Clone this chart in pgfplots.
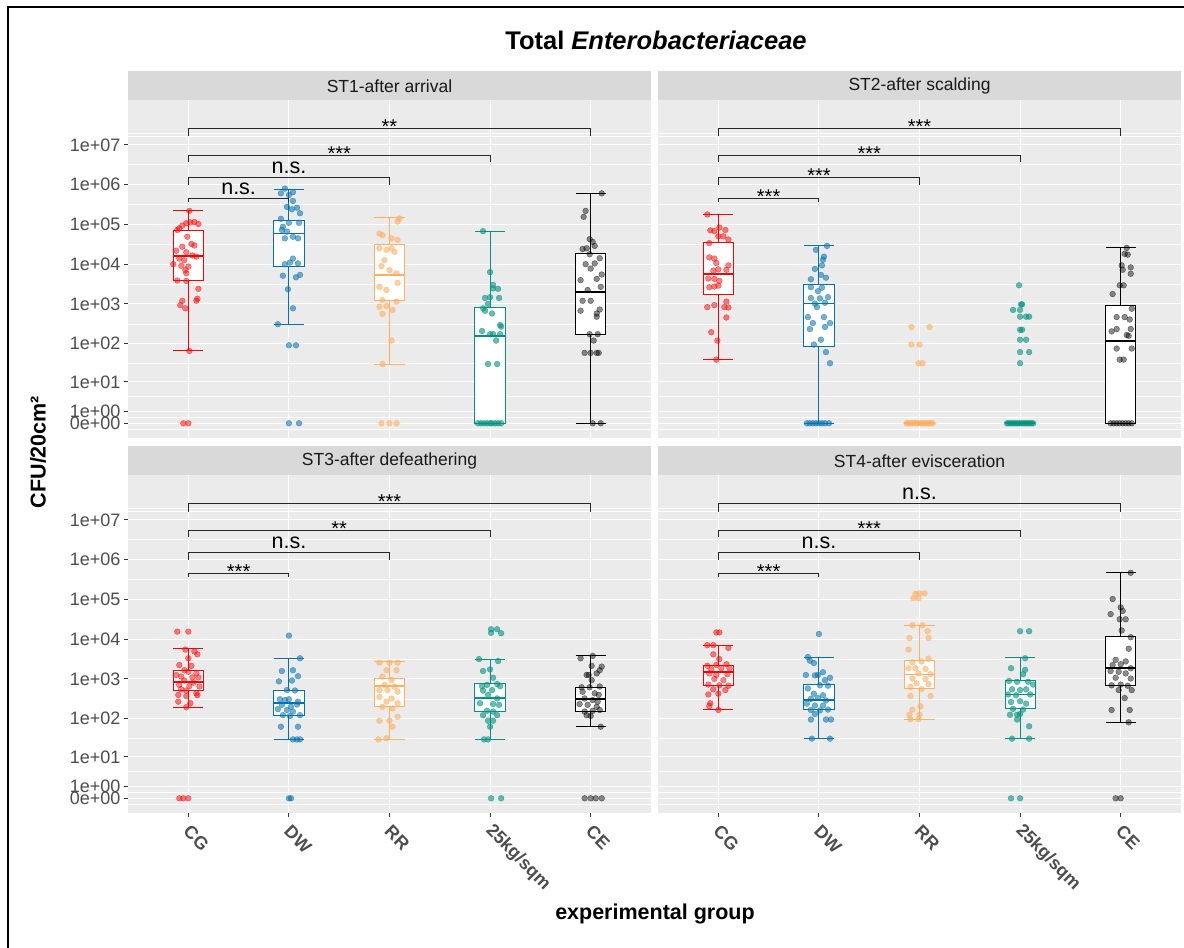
\documentclass[border=0pt]{standalone}
\usepackage{pgfplots}
\pgfplotsset{compat=1.18}
\usepackage{pgfplotstable}
\usepgfplotslibrary{statistics}
\usepackage{fontspec}
\setmainfont{Liberation Sans}
\definecolor{cgc}{HTML}{FF0000}
\definecolor{dwc}{HTML}{0072B2}
\definecolor{rrc}{HTML}{FFB061}
\definecolor{kgc}{HTML}{009480}
\definecolor{cec}{HTML}{000000}
\definecolor{bgc}{HTML}{EBEBEB}
\definecolor{stripc}{HTML}{D9D9D9}
\definecolor{labc}{HTML}{4D4D4D}
\definecolor{tickc}{HTML}{333333}

% ST1-after arrival: group, jitter offset, log10(CFU+1), class
\pgfplotstableread{
g dx t c
1 0.01 5.34 a
1 -0.11 4.86 a
1 -0.06 4.97 a
1 -0.02 5.03 a
1 0.02 5.05 a
1 0.06 5.06 a
1 0.10 5.01 a
1 -0.09 4.90 a
1 -0.01 4.69 a
1 0.03 4.51 a
1 0.06 4.47 a
1 -0.06 4.44 a
1 -0.12 4.34 a
1 -0.02 4.30 a
1 0.04 4.22 a
1 0.08 4.19 a
1 -0.09 4.14 a
1 -0.04 4.10 a
1 -0.15 4.00 a
1 -0.07 3.96 a
1 0.00 3.94 a
1 -0.03 3.85 a
1 -0.02 3.77 a
1 -0.11 3.59 a
1 -0.02 3.58 a
1 0.10 3.38 a
1 0.09 3.13 a
1 0.08 3.08 a
1 -0.06 3.08 a
1 -0.08 2.97 a
1 -0.03 2.89 a
1 0.01 1.82 a
1 -0.05 0 a
1 0.00 0 a
2 -0.04 5.90 b
2 0.04 5.81 b
2 -0.08 5.78 b
2 0.00 5.74 b
2 0.04 5.59 b
2 -0.02 5.44 b
2 0.08 5.42 b
2 0.03 5.38 b
2 0.11 5.28 b
2 -0.08 5.14 b
2 0.00 5.04 b
2 0.10 5.04 b
2 -0.06 4.94 b
2 -0.07 4.86 b
2 -0.02 4.82 b
2 0.04 4.69 b
2 0.09 4.65 b
2 -0.04 4.65 b
2 0.04 4.14 b
2 0.01 4.04 b
2 0.09 4.02 b
2 -0.04 4.00 b
2 -0.06 3.71 b
2 0.11 3.73 b
2 0.07 3.67 b
2 -0.01 3.37 b
2 0.04 2.89 b
2 -0.11 2.49 b
2 0.00 1.96 b
2 0.07 1.96 b
2 0.00 0 b
2 0.10 0 b
3 0.10 5.15 c
3 0.08 5.07 c
3 -0.10 4.77 c
3 -0.07 4.73 c
3 0.02 4.65 c
3 0.08 4.61 c
3 -0.10 4.40 c
3 -0.03 4.36 c
3 0.02 4.40 c
3 0.05 4.31 c
3 -0.05 4.10 c
3 -0.08 3.95 c
3 0.00 3.85 c
3 0.07 3.77 c
3 0.08 3.53 c
3 -0.10 3.43 c
3 -0.03 3.35 c
3 -0.07 3.10 c
3 0.07 3.06 c
3 -0.10 2.93 c
3 -0.03 2.95 c
3 0.03 2.85 c
3 -0.07 2.75 c
3 0.02 2.08 c
3 -0.07 1.49 c
3 -0.08 0 c
3 0.00 0 c
3 0.07 0 c
4 -0.07 4.83 d
4 0.00 3.80 d
4 0.03 3.48 d
4 0.03 3.39 d
4 0.08 3.38 d
4 -0.05 3.15 d
4 0.00 3.17 d
4 0.09 3.15 d
4 -0.02 3.00 d
4 -0.07 2.89 d
4 -0.05 2.83 d
4 0.02 2.76 d
4 0.10 2.47 d
4 0.11 2.43 d
4 -0.08 2.32 d
4 0.00 2.24 d
4 0.03 2.24 d
4 0.10 2.24 d
4 0.06 2.08 d
4 -0.02 1.49 d
4 0.07 1.49 d
4 -0.12 0 d
4 -0.09 0 d
4 -0.06 0 d
4 -0.03 0 d
4 0.00 0 d
4 0.02 0 d
4 0.05 0 d
4 0.08 0 d
4 0.11 0 d
5 0.11 5.78 e
5 -0.05 5.34 e
5 -0.07 5.19 e
5 -0.01 4.63 e
5 0.02 4.56 e
5 -0.04 4.40 e
5 -0.08 4.38 e
5 0.04 4.46 e
5 -0.01 4.25 e
5 0.09 4.15 e
5 -0.05 4.00 e
5 0.04 4.02 e
5 0.00 3.89 e
5 0.11 3.74 e
5 -0.10 3.60 e
5 0.06 3.63 e
5 0.10 3.43 e
5 -0.03 3.35 e
5 -0.08 3.08 e
5 0.00 3.08 e
5 0.09 2.86 e
5 -0.10 2.83 e
5 0.06 2.76 e
5 0.06 2.68 e
5 -0.01 2.24 e
5 0.07 2.24 e
5 0.03 2.08 e
5 -0.06 1.77 e
5 0.00 1.77 e
5 0.06 1.77 e
5 0.08 1.77 e
5 0.02 0 e
5 0.10 0 e
}\stA

% ST2-after scalding
\pgfplotstableread{
g dx t c
1 -0.11 5.25 a
1 -0.08 4.85 a
1 -0.04 4.83 a
1 0.01 4.92 a
1 0.07 4.86 a
1 0.00 4.70 a
1 0.05 4.70 a
1 0.10 4.62 a
1 -0.09 4.53 a
1 -0.09 4.17 a
1 -0.04 4.14 a
1 -0.02 4.03 a
1 0.10 3.97 a
1 -0.05 3.84 a
1 0.00 3.87 a
1 0.08 3.86 a
1 -0.10 3.64 a
1 -0.04 3.63 a
1 0.01 3.58 a
1 -0.09 3.42 a
1 -0.04 3.44 a
1 0.00 3.46 a
1 0.08 3.06 a
1 -0.11 2.92 a
1 -0.04 2.97 a
1 0.06 2.92 a
1 0.10 2.91 a
1 0.08 2.66 a
1 -0.07 2.29 a
1 -0.01 2.08 a
1 -0.02 1.60 a
2 -0.03 4.36 b
2 0.08 4.46 b
2 0.05 4.19 b
2 0.04 4.11 b
2 0.03 3.97 b
2 -0.04 3.88 b
2 0.02 3.73 b
2 0.07 3.66 b
2 -0.08 3.62 b
2 -0.08 3.42 b
2 0.03 3.41 b
2 -0.01 3.32 b
2 -0.08 3.15 b
2 0.01 3.14 b
2 0.09 3.17 b
2 -0.04 3.01 b
2 0.06 3.03 b
2 -0.02 2.92 b
2 -0.11 2.67 b
2 0.05 2.67 b
2 -0.06 2.52 b
2 0.11 2.52 b
2 -0.09 2.37 b
2 0.06 2.42 b
2 0.02 2.10 b
2 -0.05 1.98 b
2 0.07 1.79 b
2 0.11 1.51 b
2 -0.12 0 b
2 -0.09 0 b
2 -0.06 0 b
2 -0.03 0 b
2 0.00 0 b
2 0.03 0 b
2 0.06 0 b
2 0.10 0 b
3 -0.08 2.42 c
3 0.10 2.42 c
3 -0.08 1.98 c
3 0.00 1.98 c
3 -0.01 1.51 c
3 0.03 1.51 c
3 -0.13 0 c
3 -0.11 0 c
3 -0.09 0 c
3 -0.07 0 c
3 -0.05 0 c
3 -0.03 0 c
3 -0.01 0 c
3 0.01 0 c
3 0.03 0 c
3 0.05 0 c
3 0.07 0 c
3 0.09 0 c
3 0.11 0 c
3 0.13 0 c
4 -0.01 3.47 d
4 0.01 2.99 d
4 0.02 2.99 d
4 -0.07 2.85 d
4 0.00 2.85 d
4 0.00 2.68 d
4 0.06 2.68 d
4 0.09 2.68 d
4 0.00 2.35 d
4 0.02 2.35 d
4 0.00 2.10 d
4 0.06 2.10 d
4 0.00 1.79 d
4 0.09 1.79 d
4 0.00 1.51 d
4 -0.13 0 d
4 -0.11 0 d
4 -0.09 0 d
4 -0.07 0 d
4 -0.05 0 d
4 -0.03 0 d
4 -0.01 0 d
4 0.01 0 d
4 0.03 0 d
4 0.05 0 d
4 0.07 0 d
4 0.09 0 d
4 0.11 0 d
4 0.13 0 d
5 0.06 4.41 e
5 0.04 4.26 e
5 0.07 4.24 e
5 0.01 3.97 e
5 0.10 3.92 e
5 0.02 3.86 e
5 0.10 3.76 e
5 -0.01 3.47 e
5 0.03 3.47 e
5 -0.08 3.25 e
5 0.11 2.88 e
5 -0.04 2.67 e
5 0.04 2.67 e
5 0.09 2.61 e
5 -0.04 2.37 e
5 -0.09 2.31 e
5 0.10 2.37 e
5 0.06 2.22 e
5 0.08 2.20 e
5 -0.04 1.88 e
5 0.11 1.88 e
5 -0.01 1.60 e
5 0.03 1.60 e
5 -0.10 0 e
5 -0.07 0 e
5 -0.04 0 e
5 -0.01 0 e
5 0.02 0 e
5 0.05 0 e
5 0.08 0 e
5 0.11 0 e
}\stB

% ST3-after defeathering
\pgfplotstableread{
g dx t c
1 -0.11 4.19 a
1 0.00 4.19 a
1 -0.03 3.74 a
1 0.06 3.69 a
1 0.09 3.62 a
1 0.00 3.52 a
1 -0.09 3.35 a
1 0.03 3.33 a
1 -0.04 3.22 a
1 0.00 3.18 a
1 0.08 3.14 a
1 -0.12 3.10 a
1 -0.07 3.06 a
1 0.04 3.04 a
1 0.10 3.04 a
1 -0.04 2.96 a
1 0.05 2.91 a
1 -0.09 2.85 a
1 0.01 2.82 a
1 0.11 2.81 a
1 -0.07 2.74 a
1 -0.02 2.71 a
1 0.08 2.64 a
1 -0.10 2.60 a
1 -0.02 2.57 a
1 0.09 2.59 a
1 -0.10 2.43 a
1 -0.02 2.29 a
1 0.02 2.39 a
1 -0.09 0 a
1 -0.05 0 a
1 0.00 0 a
2 0.00 4.09 b
2 0.11 3.52 b
2 -0.07 3.20 b
2 0.04 3.22 b
2 0.09 3.07 b
2 -0.10 2.94 b
2 0.03 2.96 b
2 -0.02 2.72 b
2 0.06 2.71 b
2 -0.09 2.49 b
2 -0.04 2.47 b
2 0.00 2.49 b
2 0.09 2.43 b
2 -0.07 2.35 b
2 0.02 2.30 b
2 0.08 2.36 b
2 -0.11 2.24 b
2 -0.02 2.22 b
2 0.04 2.18 b
2 -0.06 2.09 b
2 0.01 2.07 b
2 0.11 2.09 b
2 -0.08 1.80 b
2 0.09 1.80 b
2 0.04 1.48 b
2 0.08 1.48 b
2 0.11 1.48 b
2 0.00 0 b
2 0.02 0 b
3 -0.10 3.41 c
3 0.00 3.41 c
3 0.08 3.41 c
3 -0.03 3.22 c
3 0.07 3.22 c
3 -0.07 3.06 c
3 0.02 2.97 c
3 -0.05 2.85 c
3 0.05 2.81 c
3 -0.10 2.72 c
3 -0.02 2.72 c
3 0.08 2.68 c
3 -0.10 2.55 c
3 0.02 2.51 c
3 -0.03 2.43 c
3 0.08 2.39 c
3 -0.07 2.30 c
3 0.03 2.26 c
3 -0.10 1.95 c
3 0.00 1.95 c
3 0.08 2.05 c
3 0.03 1.80 c
3 -0.11 1.48 c
3 -0.03 1.51 c
4 0.01 4.25 d
4 0.01 4.16 d
4 0.07 4.25 d
4 0.11 4.15 d
4 -0.11 3.50 d
4 0.08 3.45 d
4 -0.07 3.20 d
4 0.00 3.24 d
4 0.03 3.03 d
4 -0.08 2.82 d
4 -0.03 2.85 d
4 0.07 2.87 d
4 0.10 2.82 d
4 -0.07 2.71 d
4 0.02 2.72 d
4 -0.02 2.60 d
4 0.07 2.51 d
4 -0.10 2.39 d
4 0.03 2.37 d
4 0.09 2.35 d
4 -0.03 2.20 d
4 0.03 2.18 d
4 -0.07 2.09 d
4 0.07 2.09 d
4 -0.02 1.95 d
4 0.03 1.95 d
4 0.00 1.80 d
4 -0.06 1.48 d
4 -0.02 1.48 d
4 0.01 0 d
4 0.11 0 d
5 -0.10 3.52 e
5 0.02 3.58 e
5 0.01 3.33 e
5 0.11 3.31 e
5 0.09 3.22 e
5 0.06 3.14 e
5 -0.04 3.10 e
5 -0.02 3.10 e
5 0.01 2.97 e
5 -0.09 2.79 e
5 -0.01 2.79 e
5 0.09 2.81 e
5 -0.08 2.68 e
5 0.04 2.64 e
5 0.08 2.60 e
5 -0.06 2.51 e
5 0.02 2.47 e
5 0.07 2.43 e
5 -0.11 2.37 e
5 -0.03 2.35 e
5 0.06 2.30 e
5 0.09 2.22 e
5 -0.06 2.18 e
5 0.02 2.20 e
5 -0.04 2.09 e
5 0.00 2.07 e
5 0.10 1.80 e
5 -0.06 0 e
5 0.00 0 e
5 0.05 0 e
5 0.11 0 e
}\stC

% ST4-after evisceration
\pgfplotstableread{
g dx t c
1 -0.02 4.17 a
1 0.01 4.17 a
1 -0.11 3.85 a
1 -0.05 3.85 a
1 0.10 3.78 a
1 -0.05 3.62 a
1 0.01 3.50 a
1 -0.11 3.33 a
1 -0.02 3.35 a
1 0.08 3.37 a
1 -0.07 3.25 a
1 0.03 3.27 a
1 0.11 3.27 a
1 -0.09 3.14 a
1 -0.02 3.10 a
1 0.09 3.12 a
1 -0.04 3.00 a
1 0.05 2.97 a
1 -0.10 2.86 a
1 0.01 2.84 a
1 0.10 2.83 a
1 -0.05 2.74 a
1 0.07 2.72 a
1 -0.10 2.61 a
1 0.00 2.63 a
1 -0.08 2.39 a
1 -0.09 2.32 a
1 0.00 2.22 a
2 0.00 4.13 b
2 -0.11 3.55 b
2 -0.09 3.46 b
2 -0.05 3.40 b
2 -0.13 3.10 b
2 -0.04 3.09 b
2 -0.01 3.10 b
2 0.04 3.17 b
2 0.11 3.03 b
2 0.06 2.97 b
2 0.01 2.84 b
2 0.09 2.83 b
2 -0.11 2.76 b
2 -0.05 2.63 b
2 0.04 2.59 b
2 -0.08 2.50 b
2 -0.01 2.52 b
2 0.07 2.46 b
2 -0.12 2.38 b
2 -0.04 2.33 b
2 0.04 2.33 b
2 -0.08 2.22 b
2 0.01 2.21 b
2 0.09 2.23 b
2 -0.04 2.12 b
2 -0.08 1.98 b
2 0.07 1.98 b
2 0.12 1.98 b
2 -0.07 1.50 b
2 0.11 1.50 b
3 -0.04 5.14 c
3 0.00 5.15 c
3 0.05 5.15 c
3 -0.06 5.03 c
3 -0.01 5.03 c
3 -0.07 4.35 c
3 0.03 4.35 c
3 0.08 4.20 c
3 -0.10 4.03 c
3 0.09 4.03 c
3 -0.11 3.74 c
3 0.09 3.51 c
3 -0.07 3.42 c
3 0.02 3.44 c
3 -0.11 3.27 c
3 -0.04 3.27 c
3 0.06 3.25 c
3 -0.01 3.14 c
3 0.11 3.12 c
3 -0.07 3.01 c
3 0.06 3.00 c
3 -0.03 2.89 c
3 0.09 2.87 c
3 -0.09 2.80 c
3 0.02 2.74 c
3 -0.09 2.57 c
3 0.11 2.57 c
3 0.01 2.31 c
3 -0.07 2.23 c
3 -0.10 2.10 c
3 0.00 2.10 c
3 -0.09 1.99 c
3 -0.01 1.99 c
4 0.00 4.20 d
4 0.09 4.20 d
4 0.05 3.52 d
4 -0.09 3.27 d
4 0.05 3.23 d
4 0.03 3.12 d
4 -0.11 2.95 d
4 -0.03 2.93 d
4 0.08 2.93 d
4 0.13 2.86 d
4 -0.08 2.74 d
4 0.00 2.72 d
4 0.06 2.74 d
4 -0.12 2.61 d
4 -0.04 2.59 d
4 0.10 2.61 d
4 -0.09 2.42 d
4 0.00 2.44 d
4 0.06 2.38 d
4 -0.07 2.25 d
4 0.03 2.23 d
4 -0.10 2.10 d
4 -0.03 2.10 d
4 0.00 2.12 d
4 -0.03 1.98 d
4 0.09 1.81 d
4 -0.08 1.50 d
4 0.09 1.50 d
4 -0.09 0 d
4 0.00 0 d
5 0.10 5.67 e
5 -0.08 5.01 e
5 0.00 4.80 e
5 0.02 4.71 e
5 -0.10 4.63 e
5 -0.01 4.50 e
5 0.05 4.50 e
5 0.01 4.22 e
5 0.10 4.05 e
5 0.08 3.76 e
5 -0.05 3.48 e
5 0.05 3.44 e
5 -0.08 3.35 e
5 0.00 3.37 e
5 0.10 3.27 e
5 -0.10 3.20 e
5 -0.02 3.18 e
5 0.05 3.14 e
5 -0.05 3.03 e
5 0.10 3.01 e
5 -0.09 2.84 e
5 0.00 2.86 e
5 0.07 2.83 e
5 -0.02 2.72 e
5 0.11 2.72 e
5 0.04 2.52 e
5 -0.09 2.22 e
5 0.09 2.22 e
5 0.08 1.91 e
5 -0.05 0 e
5 0.00 0 e
}\stD

\newcommand{\fs}[1]{\fontsize{#1bp}{#1bp}\selectfont}

\pgfplotsset{
  panel/.style={
    scale only axis, width=523bp, height=338.5bp,
    xmin=0.4, xmax=5.6, ymin=-0.37, ymax=8.14,
    axis background/.style={fill=bgc},
    axis line style={draw=none},
    xtick={1,2,3,4,5},
    ytick={0,0.30103,1.04139,2.00432,3.00043,4.00004,5,6,7},
    minor ytick={-0.15,0.15,0.67,1.52,2.5,3.5,4.5,5.5,6.5,7.22,7.30},
    grid=both,
    major grid style={white, line width=1.1bp},
    minor grid style={white, line width=0.55bp},
    tick align=outside, major tick length=4bp, minor tick length=0pt,
    tick style={color=tickc, line width=0.9bp},
    xtick pos=bottom, ytick pos=left,
    xticklabels={}, yticklabels={},
    yticklabel style={font=\fs{18}, color=labc},
    xticklabel style={font=\fs{18}\bfseries, color=labc, yshift=-9bp, xshift=-4bp, rotate=-45, anchor=west},
  },
  leftp/.style={yticklabels={0e+00,1e+00,1e+01,1e+02,1e+03,1e+04,1e+05,1e+06,1e+07}},
  rightp/.style={ytick style={draw=none}},
  topp/.style={xtick style={draw=none}},
  botp/.style={xticklabels={CG,DW,RR,25kg/sqm,CE}},
  pts/.style={scatter, only marks, mark=*, mark size=2.9bp,
    scatter src=explicit symbolic,
    scatter/classes={
      a={mark=*, draw=cgc, fill=cgc, fill opacity=0.5, draw opacity=0.55, line width=0.4bp},
      b={mark=*, draw=dwc, fill=dwc, fill opacity=0.55, draw opacity=0.6, line width=0.4bp},
      c={mark=*, draw=rrc, fill=rrc, fill opacity=0.6, draw opacity=0.65, line width=0.4bp},
      d={mark=*, draw=kgc, fill=kgc, fill opacity=0.6, draw opacity=0.65, line width=0.4bp},
      e={mark=*, draw=cec, fill=cec, fill opacity=0.45, draw opacity=0.5, line width=0.4bp}}},
  brk/.style={black!85, line width=1bp, no marks, solid},
}

\newcommand{\bx}[7]{\addplot[boxplot prepared={draw direction=y, draw position=#1, lower whisker=#2, lower quartile=#3, median=#4, upper quartile=#5, upper whisker=#6, box extend=0.3, whisker extend=0.3, every median/.style={line width=1.8bp}}, draw=#7, fill=white, line width=1bp, solid] coordinates {};}

\newcommand{\brackets}[4]{%
  \addplot[brk] coordinates {(1,5.56) (1,5.65) (2,5.65) (2,5.56)};
  \addplot[brk] coordinates {(1,5.99) (1,6.18) (3,6.18) (3,5.99)};
  \addplot[brk] coordinates {(1,6.56) (1,6.74) (4,6.74) (4,6.56)};
  \addplot[brk] coordinates {(1,7.21) (1,7.40) (5,7.40) (5,7.21)};
  \siglab{1.5}{5.65}{#1}\siglab{2}{6.18}{#2}\siglab{2.5}{6.74}{#3}\siglab{3}{7.40}{#4}}
\newcommand{\siglab}[3]{%
  \ifnum\pdfstrcmp{#3}{ns}=0
    \node[anchor=base, inner sep=0pt, font=\fs{21.5}] at (axis cs:#1,#2) [yshift=4bp] {n.s.};
  \else
    \node[anchor=center, inner sep=0pt, font=\fs{20}] at (axis cs:#1,#2) [yshift=2bp] {#3};
  \fi}

\begin{document}
\begin{tikzpicture}
\useasboundingbox (0,0) rectangle (1184bp,-948bp);
\fill[white] (0,0) rectangle (1184bp,-948bp);
\draw[black, line width=2bp] (8bp,-948bp) -- (8bp,-7bp) -- (1184bp,-7bp);

% strips
\fill[stripc] (128bp,-71bp) rectangle (651bp,-99.5bp);
\fill[stripc] (658bp,-71bp) rectangle (1181bp,-99.5bp);
\fill[stripc] (128bp,-446bp) rectangle (651bp,-474.5bp);
\fill[stripc] (658bp,-446bp) rectangle (1181bp,-474.5bp);
\node[font=\fs{17.5}, color=black!90] at (389.5bp,-86bp) {ST1-after arrival};
\node[font=\fs{17.5}, color=black!90] at (919.5bp,-86bp) {ST2-after scalding};
\node[font=\fs{17.5}, color=black!90] at (389.5bp,-461bp) {ST3-after defeathering};
\node[font=\fs{17.5}, color=black!90] at (919.5bp,-461bp) {ST4-after evisceration};

% ST1
\begin{axis}[panel, leftp, topp, at={(128bp,-99.5bp)}, anchor=north west]
\bx{1}{1.82}{3.59}{4.20}{4.85}{5.34}{cgc}
\bx{2}{2.49}{3.95}{4.77}{5.09}{5.88}{dwc}
\bx{3}{1.49}{3.08}{3.73}{4.50}{5.17}{rrc}
\bx{4}{0}{0}{2.19}{2.91}{4.83}{kgc}
\bx{5}{0}{2.24}{3.31}{4.27}{5.78}{cec}
\addplot[pts] table[x expr=\thisrow{g}+\thisrow{dx}, y=t, meta=c] {\stA};
\brackets{ns}{ns}{***}{**}
\end{axis}

% ST2
\begin{axis}[panel, rightp, topp, at={(658bp,-99.5bp)}, anchor=north west]
\bx{1}{1.60}{3.24}{3.75}{4.55}{5.25}{cgc}
\bx{2}{0}{1.94}{3.01}{3.49}{4.46}{dwc}
\bx{3}{0}{0}{0}{0}{0}{rrc}
\bx{4}{0}{0}{0}{0}{0}{kgc}
\bx{5}{0}{0}{2.07}{2.97}{4.41}{cec}
\addplot[pts] table[x expr=\thisrow{g}+\thisrow{dx}, y=t, meta=c] {\stB};
\brackets{***}{***}{***}{***}
\end{axis}

% ST3
\begin{axis}[panel, leftp, botp, at={(128bp,-474.5bp)}, anchor=north west]
\bx{1}{2.29}{2.72}{2.93}{3.22}{3.76}{cgc}
\bx{2}{1.47}{2.08}{2.40}{2.71}{3.52}{dwc}
\bx{3}{1.48}{2.32}{2.82}{3.00}{3.43}{rrc}
\bx{4}{1.48}{2.19}{2.53}{2.88}{3.50}{kgc}
\bx{5}{1.80}{2.18}{2.50}{2.79}{3.58}{cec}
\addplot[pts] table[x expr=\thisrow{g}+\thisrow{dx}, y=t, meta=c] {\stC};
\brackets{***}{ns}{**}{***}
\end{axis}

% ST4
\begin{axis}[panel, rightp, botp, at={(658bp,-474.5bp)}, anchor=north west]
\bx{1}{2.22}{2.83}{3.17}{3.35}{3.85}{cgc}
\bx{2}{1.50}{2.22}{2.48}{2.87}{3.55}{dwc}
\bx{3}{1.99}{2.76}{3.11}{3.46}{4.35}{rrc}
\bx{4}{1.50}{2.27}{2.61}{2.95}{3.55}{kgc}
\bx{5}{1.91}{2.84}{3.27}{4.07}{5.67}{cec}
\addplot[pts] table[x expr=\thisrow{g}+\thisrow{dx}, y=t, meta=c] {\stD};
\brackets{***}{ns}{***}{ns}
\end{axis}

% titles
\node[font=\fs{25.5}\bfseries] at (656bp,-40bp) {Total \textit{Enterobacteriaceae}};
\node[font=\fs{21.5}\bfseries, rotate=90] at (38bp,-452bp) {CFU/20cm²};
\node[font=\fs{21.5}\bfseries] at (655bp,-914bp) {experimental group};
\end{tikzpicture}
\end{document}
